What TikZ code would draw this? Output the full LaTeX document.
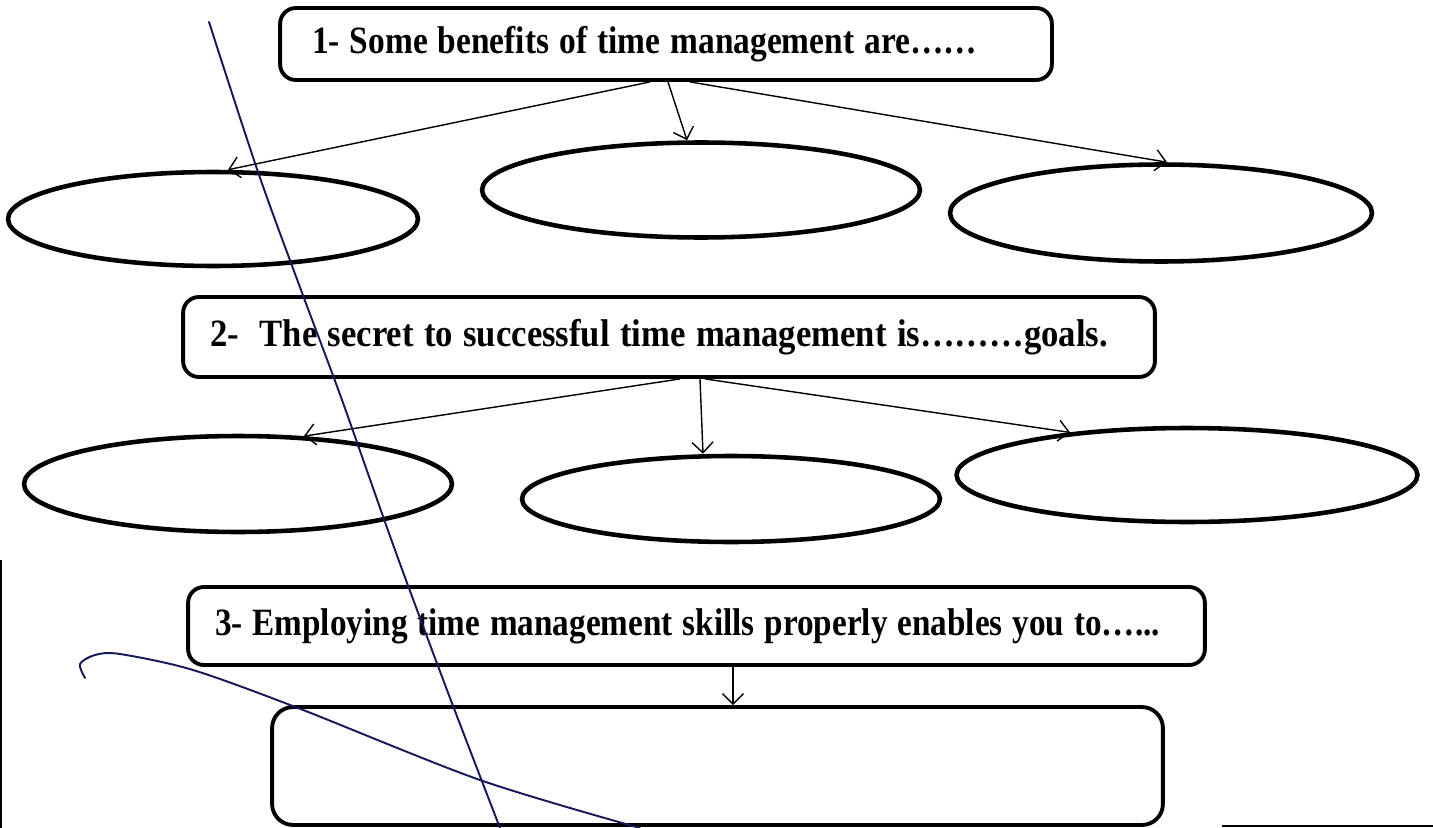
\documentclass[tikz,border=0pt]{standalone}
\usepackage{graphicx}
\usepackage{fontspec}
\setmainfont{Liberation Serif}
\usetikzlibrary{arrows.meta,shapes.geometric,calc}
\definecolor{pen}{RGB}{22,24,92}
\newcommand{\qtext}[2]{\resizebox{#1}{\height}{\fontsize{22}{25}\selectfont\bfseries\spaceskip=0.3em #2}}
\begin{document}
\begin{tikzpicture}[x=0.02cm,y=-0.02cm,
  qbox/.style={draw, line width=2.2pt, rounded corners=9pt, inner ysep=0pt, align=left},
  ans/.style={draw, ellipse, line width=2.6pt, inner sep=0pt},
  arr/.style={line width=0.8pt, -{Straight Barb[length=6pt,width=12pt]}},
  penline/.style={draw=pen, line width=1.1pt, line cap=round}
]
\useasboundingbox (0,0) rectangle (1433,828);

% question boxes
\node[qbox, inner xsep=0.64cm, text width=14.16cm, minimum height=1.44cm] (b1) at (666,44)
  {\qtext{13.3cm}{1- Some benefits of time management are……}};
\node[qbox, inner xsep=0.54cm, text width=18.36cm, minimum height=1.6cm] (b2) at (669,337)
  {\qtext{17.96cm}{2-\ \ The secret to successful time management is………goals.}};
\node[qbox, inner xsep=0.54cm, text width=19.26cm, minimum height=1.56cm] (b3) at (696.5,626)
  {\qtext{18.9cm}{3- Employing time management skills properly enables you to…...}};
\node[draw, line width=2.2pt, rounded corners=12pt, minimum width=17.82cm, minimum height=2.36cm] (b4) at (717.5,766) {};

% answer ellipses
\node[ans, minimum width=8.2cm,  minimum height=1.88cm] (e1) at (213,219) {};
\node[ans, minimum width=8.76cm, minimum height=1.9cm]  (e2) at (701,190) {};
\node[ans, minimum width=8.44cm, minimum height=1.94cm] (e3) at (1161,213) {};
\node[ans, minimum width=8.56cm, minimum height=1.92cm] (e4) at (238,484) {};
\node[ans, minimum width=8.36cm, minimum height=1.72cm] (e5) at (731,499) {};
\node[ans, minimum width=9.22cm, minimum height=1.88cm] (e6) at (1187,475) {};

% connectors
\draw[arr] ([xshift=-0.32cm]b1.south) -- ([xshift=0.3cm]e1.north);
\draw[arr] ([xshift=0.04cm]b1.south) -- ([xshift=-0.28cm]e2.north);
\draw[arr] ([xshift=0.48cm]b1.south) -- ([xshift=0.12cm]e3.north);

\draw[arr] ([xshift=0.22cm]b2.south) -- (e4.36.5);
\draw[arr] ([xshift=0.62cm]b2.south) -- ([xshift=-0.56cm]e5.north);
\draw[arr] ([xshift=0.72cm]b2.south) -- (e6.160.5);

\draw[arr] ([xshift=0.73cm]b3.south) -- ([xshift=0.73cm]b3.south |- b4.north);

% pen strokes
\draw[penline] plot[smooth] coordinates {(209,22) (258,172) (301,290) (342,400) (395,550) (447,690) (500,828)};
\draw[penline] plot[smooth] coordinates {(85,678) (80,664) (95,655) (120,654) (193,670) (298,708) (480,780) (640,828)};

% scan edges
\draw[line width=1.5pt] (1,560) -- (1,828);
\draw[line width=1.5pt] (1222,826) -- (1433,826);
\end{tikzpicture}
\end{document}
